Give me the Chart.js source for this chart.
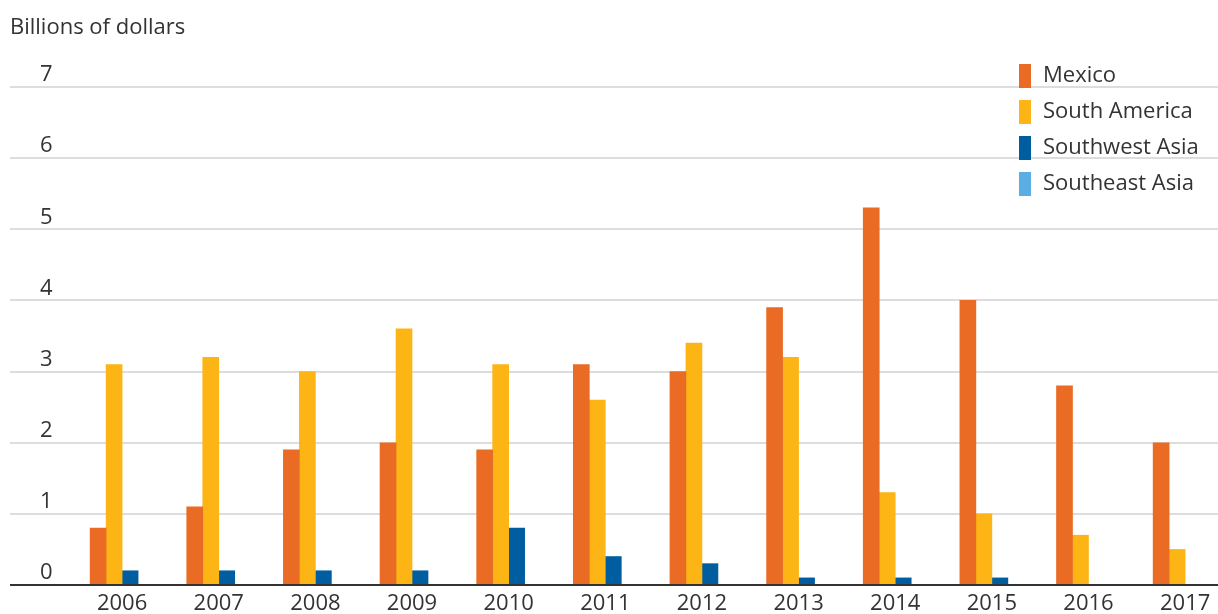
<!DOCTYPE html>
<html>
<head>
<meta charset="utf-8">
<script src="https://cdn.jsdelivr.net/npm/chart.js@4"></script>
<style>
  html, body { margin: 0; padding: 0; background: #fff; }
  #wrap { width: 1218px; height: 614px; }
</style>
</head>
<body>
<div id="wrap"><canvas id="chart"></canvas></div>
<script>
// ==== Data ====
const years = ["2006", "2007", "2008", "2009", "2010", "2011", "2012", "2013", "2014", "2015", "2016", "2017"];
const mexico = [0.8, 1.1, 1.9, 2.0, 1.9, 3.1, 3.0, 3.9, 5.3, 4.0, 2.8, 2.0];
const southAmerica = [3.1, 3.2, 3.0, 3.6, 3.1, 2.6, 3.4, 3.2, 1.3, 1.0, 0.7, 0.5];
const southwestAsia = [0.2, 0.2, 0.2, 0.2, 0.8, 0.4, 0.3, 0.1, 0.1, 0.1, 0, 0];
const southeastAsia = [0, 0, 0, 0, 0, 0, 0, 0, 0, 0, 0, 0];
const yTicks = [0, 1, 2, 3, 4, 5, 6, 7];

const FONT = "'Open Sans', sans-serif";
const series = [
  { label: "Mexico", data: mexico, color: "#E96B24" },
  { label: "South America", data: southAmerica, color: "#FDB515" },
  { label: "Southwest Asia", data: southwestAsia, color: "#005DA0" },
  { label: "Southeast Asia", data: southeastAsia, color: "#5BAEE3" }
];

// ==== Labels, baseline, legend ====
const decor = {
  id: "decor",
  afterDraw(chart) {
    const { ctx, scales: { x, y }, chartArea } = chart;
    ctx.save();
    ctx.fillStyle = "#333";
    ctx.font = "22px " + FONT;
    ctx.textBaseline = "middle";
    ctx.textAlign = "left";
    ctx.fillText("Billions of dollars", 10, 28);
    yTicks.forEach(v => ctx.fillText(String(v), 40, y.getPixelForValue(v) - 12));
    ctx.textAlign = "center";
    years.forEach((yr, i) => ctx.fillText(yr, x.getPixelForValue(i), 604));
    // baseline
    ctx.strokeStyle = "#333";
    ctx.lineWidth = 2;
    ctx.beginPath();
    ctx.moveTo(chartArea.left, y.getPixelForValue(0));
    ctx.lineTo(chartArea.right, y.getPixelForValue(0));
    ctx.stroke();
    // legend
    ctx.textAlign = "left";
    series.forEach((s, i) => {
      const cy = 76 + i * 36;
      ctx.fillStyle = s.color;
      ctx.fillRect(1019, cy - 12, 12, 24);
      ctx.fillStyle = "#333";
      ctx.fillText(s.label, 1043, cy);
    });
    ctx.restore();
  }
};

new Chart(document.getElementById("chart"), {
  type: "bar",
  data: {
    datasets: series.map(s => ({
      label: s.label,
      data: s.data.map((v, i) => ({ x: i, y: v })),
      backgroundColor: s.color,
      barThickness: 16
    }))
  },
  options: {
    responsive: true,
    maintainAspectRatio: false,
    animation: false,
    layout: { padding: { left: 10, right: 0, top: 87, bottom: 29 } },
    plugins: { legend: { display: false }, tooltip: { enabled: false } },
    scales: {
      x: {
        type: "linear",
        display: false,
        offset: false,
        min: -1.16,
        max: 11.34
      },
      y: {
        min: 0,
        max: 7,
        ticks: { display: false, stepSize: 1 },
        grid: { color: "#dddddd", lineWidth: 2, drawTicks: false },
        border: { display: false }
      }
    }
  },
  plugins: [decor]
});
</script>
</body>
</html>
